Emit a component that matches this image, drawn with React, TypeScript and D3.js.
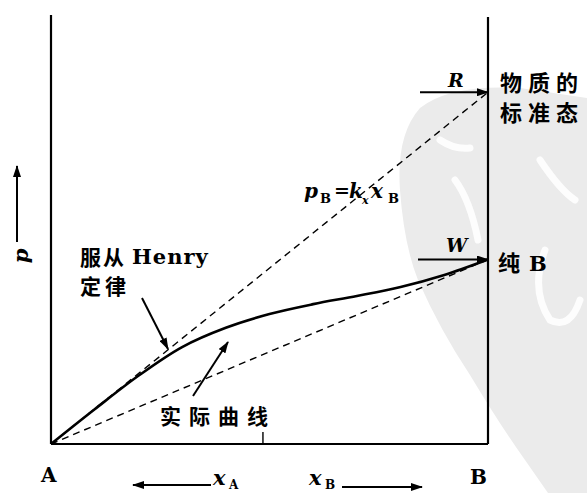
import * as d3 from "d3";

// mole fraction of B along the bottom axis
const xB = [0, 0.1, 0.2, 0.3, 0.4, 0.5, 0.6, 0.7, 0.8, 0.9, 1];
// real vapour pressure of B (arbitrary units)
const pReal = [0, 8.1, 15.9, 22.6, 27.1, 30.3, 32.6, 34.5, 36.6, 39.4, 43];
const kx = 82; // Henry constant -> point R
const pStarB = 43; // pure B -> point W
const tickValues = [0.485];

const W = 587;
const H = 493;
const x = d3.scaleLinear().domain([0, 1]).range([51, 488]);
const y = d3.scaleLinear().domain([0, 100]).range([444, 15]);

const serif = "'DejaVu Serif', 'Liberation Serif', serif";
const cjk = "'Noto Sans CJK SC', sans-serif";

export default function App() {
  const pts: [number, number][] = xB.map((v, i) => [v, pReal[i]]);
  const curve = d3
    .line<[number, number]>()
    .x((d) => x(d[0]))
    .y((d) => y(d[1]))
    .curve(d3.curveCatmullRom.alpha(0.5))(pts);

  const straight = d3.line<[number, number]>().x((d) => x(d[0])).y((d) => y(d[1]));
  const henry = straight([
    [0, 0],
    [1, kx],
  ]);
  const ideal = straight([
    [0, 0],
    [1, pStarB],
  ]);

  return (
    <svg
      width={W}
      height={H}
      style={{ position: "absolute", left: 0, top: 0, background: "#fff" }}
    >
      <defs>
        <marker
          id="ah"
          viewBox="0 0 12 8"
          refX="11"
          refY="4"
          markerWidth="12"
          markerHeight="8"
          markerUnits="userSpaceOnUse"
          orient="auto"
        >
          <path d="M0,0 L12,4 L0,8 Z" fill="#000" />
        </marker>
      </defs>

      {/* watermark */}
      <path
        d="M587,98 L520,88 Q450,84 420,108 Q396,135 400,190 Q404,245 418,280 Q440,330 470,375 Q500,425 525,460 L548,493 L587,493 Z"
        fill="#ebebeb"
      />
      <g stroke="#fff" strokeWidth={7} fill="none" strokeLinecap="round" opacity={0.9}>
        <path d="M440,140 Q455,150 470,148" />
        <path d="M455,180 Q470,200 478,240" />
        <path d="M540,160 Q560,190 575,200" />
        <path d="M545,250 Q530,290 550,320 Q570,330 580,300" />
      </g>

      {/* frame */}
      <g stroke="#000" strokeWidth={2.2} fill="none">
        <line x1={x(0)} x2={x(0)} y1={15} y2={y(0)} />
        <line x1={x(0)} x2={x(1)} y1={y(0)} y2={y(0)} />
        <line x1={x(1)} x2={x(1)} y1={17} y2={y(0)} />
        {tickValues.map((t) => (
          <line key={t} x1={x(t)} x2={x(t)} y1={y(0)} y2={y(0) - 12} strokeWidth={1.4} />
        ))}
      </g>

      {/* dashed reference lines */}
      <path d={henry ?? ""} stroke="#000" strokeWidth={1.4} strokeDasharray="7,5" fill="none" />
      <path d={ideal ?? ""} stroke="#000" strokeWidth={1.4} strokeDasharray="7,5" fill="none" />

      {/* real curve */}
      <path d={curve ?? ""} stroke="#000" strokeWidth={2.6} fill="none" />

      {/* R and W arrows */}
      <line x1={420} x2={x(1)} y1={y(kx)} y2={y(kx)} stroke="#000" strokeWidth={2} markerEnd="url(#ah)" />
      <line x1={418} x2={x(1)} y1={y(pStarB)} y2={y(pStarB)} stroke="#000" strokeWidth={2} markerEnd="url(#ah)" />
      <text x={448} y={87} fontFamily={serif} fontStyle="italic" fontWeight="bold" fontSize={19}>R</text>
      <text x={446} y={252} fontFamily={serif} fontStyle="italic" fontWeight="bold" fontSize={19}>W</text>

      {/* right labels */}
      <g fontFamily={cjk} fontWeight="bold" fontSize={22} letterSpacing={6}>
        <text x={500} y={91}>物质的</text>
        <text x={500} y={121}>标准态</text>
        <text x={498} y={271}>纯</text>
      </g>
      <text x={529} y={271} fontFamily={serif} fontWeight="bold" fontSize={21}>B</text>

      {/* Henry equation */}
      <g fontFamily={serif} fontWeight="bold">
        <text x={304} y={198} fontStyle="italic" fontSize={20}>p</text>
        <text x={320} y={203} fontSize={13}>B</text>
        <text x={334} y={197} fontSize={19}>=</text>
        <text x={349} y={198} fontStyle="italic" fontSize={20}>k</text>
        <text x={362} y={204} fontStyle="italic" fontSize={11}>x</text>
        <text x={371} y={198} fontStyle="italic" fontSize={20}>x</text>
        <text x={388} y={203} fontSize={13}>B</text>
      </g>

      {/* Henry pointer */}
      <text x={80} y={265} fontFamily={cjk} fontWeight="bold" fontSize={21} letterSpacing={2}>服从</text>
      <text x={132} y={264} fontFamily={serif} fontWeight="bold" fontSize={21} letterSpacing={1}>Henry</text>
      <text x={80} y={294} fontFamily={cjk} fontWeight="bold" fontSize={21} letterSpacing={4}>定律</text>
      <line x1={142} y1={298} x2={168} y2={349} stroke="#000" strokeWidth={2} markerEnd="url(#ah)" />

      {/* real curve pointer */}
      <text x={160} y={424} fontFamily={cjk} fontWeight="bold" fontSize={21} letterSpacing={8}>实际曲线</text>
      <line x1={193} y1={396} x2={228} y2={342} stroke="#000" strokeWidth={2} markerEnd="url(#ah)" />

      {/* end labels */}
      <text x={41} y={482} fontFamily={serif} fontWeight="bold" fontSize={20}>A</text>
      <text x={470} y={484} fontFamily={serif} fontWeight="bold" fontSize={20}>B</text>

      {/* composition arrows */}
      <line x1={211} x2={133} y1={485} y2={485} stroke="#000" strokeWidth={2} markerEnd="url(#ah)" />
      <g fontFamily={serif} fontWeight="bold">
        <text x={213} y={485} fontStyle="italic" fontSize={21}>x</text>
        <text x={229} y={489} fontSize={12}>A</text>
        <text x={309} y={485} fontStyle="italic" fontSize={21}>x</text>
        <text x={325} y={489} fontSize={12}>B</text>
      </g>
      <line x1={342} x2={422} y1={487} y2={487} stroke="#000" strokeWidth={2} markerEnd="url(#ah)" />

      {/* y label */}
      <line x1={17} x2={17} y1={242} y2={166} stroke="#000" strokeWidth={2} markerEnd="url(#ah)" />
      <text
        transform="translate(28,256) rotate(-90)"
        textAnchor="middle"
        fontFamily={serif}
        fontStyle="italic"
        fontWeight="bold"
        fontSize={21}
      >
        p
      </text>
    </svg>
  );
}
